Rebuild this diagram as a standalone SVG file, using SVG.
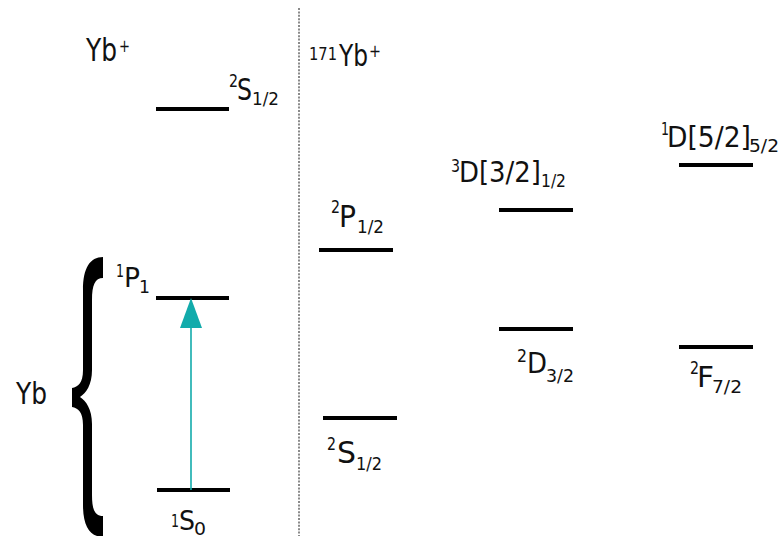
<svg xmlns="http://www.w3.org/2000/svg" width="778" height="536" viewBox="0 0 778 536">
<style>
text{font-family:"DejaVu Sans","Liberation Sans",sans-serif;fill:#111;}
.m{font-size:29px;}
.s{font-size:17px;}
.lvl{stroke:#000;stroke-width:4;fill:none;}
</style>
<defs>
<marker id="ah" markerUnits="userSpaceOnUse" markerWidth="24" markerHeight="32" refX="11" refY="0" orient="auto-start-reverse" viewBox="0 0 24 32">
</marker>
</defs>
<rect width="778" height="536" fill="#fff"/>
<line x1="299" y1="8" x2="299" y2="536" stroke="#8a8a8a" stroke-width="2" stroke-dasharray="2 1.4"/>

<g id="yb-ion-title">
<text class="m" x="86" y="61" style="font-size:32px" textLength="31" lengthAdjust="spacingAndGlyphs">Yb</text>
<text class="s" x="119" y="52" textLength="11" lengthAdjust="spacingAndGlyphs">+</text>
</g>
<g id="yb171-title">
<text class="s" x="309" y="60" textLength="28" lengthAdjust="spacingAndGlyphs">171</text>
<text class="m" x="339" y="66" style="font-size:31px" textLength="29" lengthAdjust="spacingAndGlyphs">Yb</text>
<text class="s" x="369" y="57" textLength="12" lengthAdjust="spacingAndGlyphs">+</text>
</g>
<g id="yb-label">
<text class="m" x="16" y="404" style="font-size:30px" textLength="31" lengthAdjust="spacingAndGlyphs">Yb</text>
</g>
<g id="brace">
<path fill="#000" d="M103 257 L103 278 C95 278 92 285 92 300 L92 370 C92 385 86 393 80 397 C86 401 92 409 92 424 L92 495 C92 510 95 516 103 516 L103 536 L97 536 C88 533 83 523 83 505 L83 425 C83 412 78 408 72 407 L72 388 C78 387 83 383 83 370 L83 290 C83 268 90 257 103 257 Z"/>
</g>

<g id="level-yb-plus-2S12">
<line class="lvl" x1="156" y1="109" x2="229" y2="109"/>
<text class="s" x="229" y="87" textLength="9" lengthAdjust="spacingAndGlyphs">2</text>
<text class="m" x="237" y="100" style="font-size:30px" textLength="15" lengthAdjust="spacingAndGlyphs">S</text>
<text class="s" x="252" y="105" textLength="27" lengthAdjust="spacingAndGlyphs">1/2</text>
</g>
<g id="level-1P1">
<line class="lvl" x1="156" y1="298" x2="229" y2="298"/>
<text class="s" x="116" y="277" textLength="8" lengthAdjust="spacingAndGlyphs">1</text>
<text class="m" x="124" y="287" style="font-size:27px" textLength="16" lengthAdjust="spacingAndGlyphs">P</text>
<text class="s" x="139" y="293" textLength="11" lengthAdjust="spacingAndGlyphs">1</text>
</g>
<g id="level-1S0">
<line class="lvl" x1="157" y1="490" x2="230" y2="490"/>
<text class="s" x="171" y="527" textLength="8" lengthAdjust="spacingAndGlyphs">1</text>
<text class="m" x="179" y="530" style="font-size:27px" textLength="16" lengthAdjust="spacingAndGlyphs">S</text>
<text class="s" x="194" y="535" textLength="12" lengthAdjust="spacingAndGlyphs">0</text>
</g>
<g id="level-2P12">
<line class="lvl" x1="319" y1="250" x2="393" y2="250"/>
<text class="s" x="331" y="213" textLength="9" lengthAdjust="spacingAndGlyphs">2</text>
<text class="m" x="339" y="227" style="font-size:30px" textLength="17" lengthAdjust="spacingAndGlyphs">P</text>
<text class="s" x="357" y="233" textLength="27" lengthAdjust="spacingAndGlyphs">1/2</text>
</g>
<g id="level-2S12">
<line class="lvl" x1="323" y1="418" x2="397" y2="418"/>
<text class="s" x="327" y="450" textLength="9" lengthAdjust="spacingAndGlyphs">2</text>
<text class="m" x="337" y="463" style="font-size:30px" textLength="19" lengthAdjust="spacingAndGlyphs">S</text>
<text class="s" x="356" y="470" textLength="26" lengthAdjust="spacingAndGlyphs">1/2</text>
</g>
<g id="level-3D32-12">
<line class="lvl" x1="499" y1="210" x2="573" y2="210"/>
<text class="s" x="451" y="172" textLength="9" lengthAdjust="spacingAndGlyphs">3</text>
<text class="m" x="459" y="182" textLength="82" lengthAdjust="spacingAndGlyphs">D[3/2]</text>
<text class="s" x="541" y="187" textLength="25" lengthAdjust="spacingAndGlyphs">1/2</text>
</g>
<g id="level-2D32">
<line class="lvl" x1="499" y1="329" x2="573" y2="329"/>
<text class="s" x="517" y="362" textLength="10" lengthAdjust="spacingAndGlyphs">2</text>
<text class="m" x="527" y="373" textLength="20" lengthAdjust="spacingAndGlyphs">D</text>
<text class="s" x="546" y="382" textLength="28" lengthAdjust="spacingAndGlyphs">3/2</text>
</g>
<g id="level-1D52-52">
<line class="lvl" x1="679" y1="165" x2="753" y2="165"/>
<text class="s" x="661" y="135" textLength="8" lengthAdjust="spacingAndGlyphs">1</text>
<text class="m" x="667" y="147" textLength="84" lengthAdjust="spacingAndGlyphs">D[5/2]</text>
<text class="s" x="749" y="152" textLength="30" lengthAdjust="spacingAndGlyphs">5/2</text>
</g>
<g id="level-2F72">
<line class="lvl" x1="679" y1="347" x2="753" y2="347"/>
<text class="s" x="690" y="374" textLength="9" lengthAdjust="spacingAndGlyphs">2</text>
<text class="m" x="697" y="387" textLength="17" lengthAdjust="spacingAndGlyphs">F</text>
<text class="s" x="712" y="393" textLength="30" lengthAdjust="spacingAndGlyphs">7/2</text>
</g>

<g id="connectors">
<line x1="191" y1="490" x2="191" y2="326" stroke="#12abab" stroke-width="1.6"/>
<polygon points="191,298 180,328 202,328" fill="#12abab"/>
</g>
</svg>
